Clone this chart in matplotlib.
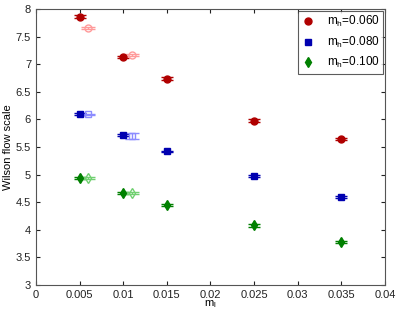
import matplotlib as mpl
mpl.use('Agg')
import matplotlib.pyplot as plt
from matplotlib.lines import Line2D
import numpy as np

# quark masses
ml = [0.005, 0.010, 0.015, 0.025, 0.035]
ml_open = [0.006, 0.011]

# filled points (value, error) per heavy mass
w_060 = [7.86, 7.13, 6.74, 5.98, 5.65]
e_060 = [0.03, 0.02, 0.02, 0.02, 0.02]
w_080 = [6.10, 5.72, 5.42, 4.97, 4.59]
e_080 = [0.02, 0.02, 0.015, 0.015, 0.015]
w_100 = [4.94, 4.67, 4.45, 4.08, 3.78]
e_100 = [0.02, 0.02, 0.02, 0.02, 0.02]

# open points
wo_060 = [7.65, 7.16]
eo_060 = [0.015, 0.02]
wo_080 = [6.09, 5.70]
eo_080 = [0.015, 0.06]
wo_100 = [4.94, 4.67]
eo_100 = [0.015, 0.015]

labels = ['m$_\\mathregular{h}$=0.060', 'm$_\\mathregular{h}$=0.080', 'm$_\\mathregular{h}$=0.100']

plt.rcParams['font.family'] = ['Liberation Sans', 'DejaVu Sans']
plt.rcParams['font.size'] = 8

fig = plt.figure(figsize=(3.99, 3.16), dpi=100)
ax = fig.add_axes([0.09, 0.098, 0.875, 0.8735])

red, blue, green = '#b00000', '#0000b0', '#008000'
pink, lblue, lgreen = '#ff9a9a', '#8c8cff', '#70d070'

ax.errorbar(ml, w_060, yerr=e_060, fmt='o', color=red, ms=5, capsize=4, lw=1)
ax.errorbar(ml, w_080, yerr=e_080, fmt='s', color=blue, ms=4, capsize=4, lw=1)
ax.errorbar(ml, w_100, yerr=e_100, fmt='d', color=green, ms=5, capsize=4, lw=1)

ax.errorbar(ml_open, wo_060, yerr=eo_060, fmt='o', color=pink, mfc='none', ms=5, capsize=5, lw=1)
ax.errorbar(ml_open, wo_080, yerr=eo_080, fmt='s', color=lblue, mfc='none', ms=4, capsize=5, lw=1)
ax.errorbar(ml_open, wo_100, yerr=eo_100, fmt='d', color=lgreen, mfc='none', ms=5, capsize=5, lw=1)

ax.set_xlim(0, 0.04)
ax.set_ylim(3, 8)
ax.set_xticks(np.arange(0, 0.0401, 0.005))
ax.set_xticklabels(['0', '0.005', '0.01', '0.015', '0.02', '0.025', '0.03', '0.035', '0.04'])
ax.set_yticks(np.arange(3, 8.01, 0.5))
ax.set_yticklabels(['3', '3.5', '4', '4.5', '5', '5.5', '6', '6.5', '7', '7.5', '8'])
ax.tick_params(direction='in', top=True, right=True, length=3, colors='#222222')
for s in ax.spines.values():
    s.set_color('#555555')
ax.set_xlabel('m$_\\mathregular{l}$', labelpad=-1)
ax.set_ylabel('Wilson flow scale', labelpad=2)

handles = [Line2D([], [], ls='none', marker='o', color=red, ms=5),
           Line2D([], [], ls='none', marker='s', color=blue, ms=4),
           Line2D([], [], ls='none', marker='d', color=green, ms=5)]
leg = ax.legend(handles, labels, loc='upper right', frameon=True, fancybox=False,
                handletextpad=1.0, borderpad=0.3, labelspacing=0.45, handlelength=1.2,
                borderaxespad=0.15, fontsize=8.5)
leg.get_frame().set_edgecolor('#333333')
leg.get_frame().set_linewidth(0.8)

fig.savefig('out.png', dpi=100)
